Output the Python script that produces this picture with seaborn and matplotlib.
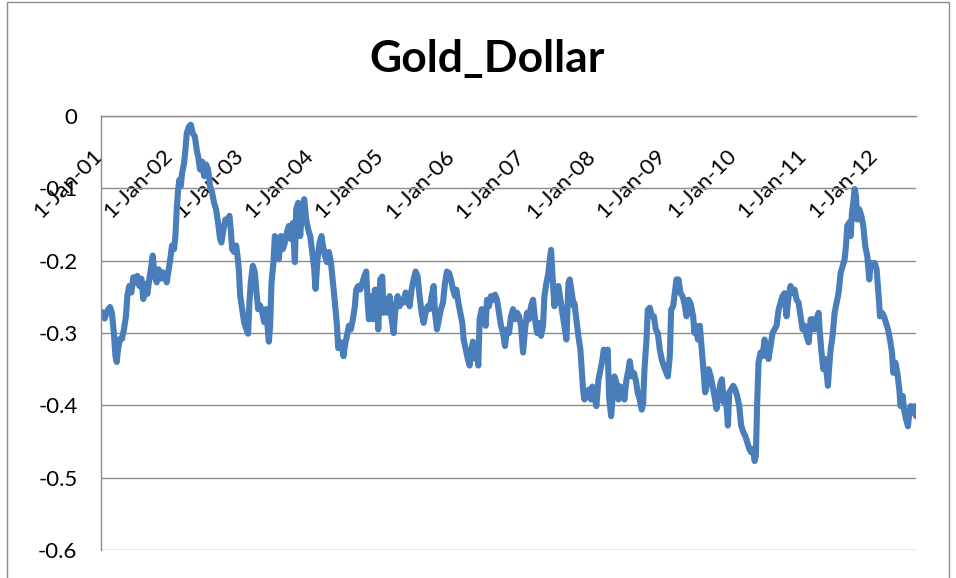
import matplotlib
matplotlib.use("Agg")
import matplotlib.pyplot as plt
import matplotlib.transforms as mtransforms
from matplotlib.patches import Rectangle
import seaborn as sns
import pandas as pd

# ---------------- data ----------------
chart_title = "Gold_Dollar"

dates = [
    2001.014, 2001.052, 2001.090, 2001.128, 2001.156, 2001.185, 2001.204, 2001.223, 2001.242, 2001.270,
    2001.298, 2001.327, 2001.355, 2001.374, 2001.402, 2001.431, 2001.459, 2001.488, 2001.516, 2001.545,
    2001.573, 2001.601, 2001.630, 2001.658, 2001.687, 2001.715, 2001.734, 2001.762, 2001.791, 2001.819,
    2001.848, 2001.876, 2001.904, 2001.933, 2001.961, 2001.990, 2002.008, 2002.037, 2002.056, 2002.075,
    2002.094, 2002.113, 2002.132, 2002.151, 2002.179, 2002.198, 2002.217, 2002.245, 2002.274, 2002.302,
    2002.331, 2002.359, 2002.378, 2002.406, 2002.435, 2002.463, 2002.491, 2002.520, 2002.548, 2002.577,
    2002.605, 2002.633, 2002.662, 2002.690,
    2002.709, 2002.738, 2002.766, 2002.794, 2002.823, 2002.842, 2002.861, 2002.889, 2002.918, 2002.937,
    2002.956, 2002.975, 2003.003, 2003.031, 2003.060, 2003.088, 2003.107, 2003.126, 2003.155, 2003.183,
    2003.211, 2003.230, 2003.259, 2003.287, 2003.316, 2003.344, 2003.363, 2003.382, 2003.401, 2003.420,
    2003.448, 2003.467, 2003.496, 2003.524, 2003.553, 2003.581, 2003.609, 2003.638, 2003.666, 2003.695,
    2003.723, 2003.751, 2003.770, 2003.799, 2003.827, 2003.855, 2003.884, 2003.912, 2003.941, 2003.969,
    2003.998, 2004.026, 2004.045, 2004.073, 2004.102, 2004.130, 2004.149, 2004.178, 2004.206, 2004.234,
    2004.263, 2004.291, 2004.319, 2004.348, 2004.367,
    2004.386, 2004.414, 2004.442, 2004.461, 2004.490, 2004.518, 2004.546, 2004.575, 2004.603, 2004.622,
    2004.651, 2004.679, 2004.708, 2004.736, 2004.764, 2004.783, 2004.802, 2004.821, 2004.840, 2004.859,
    2004.888, 2004.916, 2004.935, 2004.963, 2004.992, 2005.011, 2005.039, 2005.068, 2005.096, 2005.124,
    2005.153, 2005.181, 2005.210, 2005.238, 2005.266, 2005.295, 2005.323, 2005.352, 2005.380, 2005.408,
    2005.437, 2005.465, 2005.494, 2005.522, 2005.550, 2005.579, 2005.607, 2005.636, 2005.664, 2005.692,
    2005.721, 2005.740, 2005.768, 2005.797, 2005.825, 2005.854, 2005.882, 2005.910, 2005.939, 2005.967,
    2005.996, 2006.024,
    2006.043, 2006.071, 2006.099, 2006.128, 2006.147, 2006.175, 2006.204, 2006.232, 2006.251, 2006.279,
    2006.298, 2006.327, 2006.355, 2006.374, 2006.403, 2006.431, 2006.459, 2006.478, 2006.507, 2006.535,
    2006.564, 2006.592, 2006.620, 2006.649, 2006.677, 2006.706, 2006.734, 2006.762, 2006.791, 2006.819,
    2006.848, 2006.876, 2006.905, 2006.933, 2006.961, 2006.990, 2007.018, 2007.047, 2007.075, 2007.103,
    2007.132, 2007.160, 2007.189, 2007.217, 2007.245, 2007.274, 2007.293, 2007.321, 2007.350, 2007.369,
    2007.388, 2007.406, 2007.435, 2007.463, 2007.492, 2007.520, 2007.548, 2007.577, 2007.605, 2007.634,
    2007.653, 2007.681, 2007.710,
    2007.719, 2007.747, 2007.776, 2007.804, 2007.823, 2007.842, 2007.861, 2007.880, 2007.899, 2007.927,
    2007.955, 2007.974, 2008.003, 2008.031, 2008.060, 2008.088, 2008.116, 2008.135, 2008.164, 2008.192,
    2008.211, 2008.240, 2008.258, 2008.287, 2008.315, 2008.344, 2008.372, 2008.401, 2008.429, 2008.457,
    2008.486, 2008.505, 2008.533, 2008.562, 2008.590, 2008.618, 2008.647, 2008.675, 2008.694, 2008.713,
    2008.742, 2008.760, 2008.789, 2008.817, 2008.846, 2008.874, 2008.902, 2008.931, 2008.959, 2008.988,
    2009.016, 2009.045, 2009.073, 2009.092, 2009.120, 2009.149, 2009.168, 2009.196, 2009.225, 2009.253,
    2009.281, 2009.310, 2009.338, 2009.367,
    2009.404, 2009.423, 2009.442, 2009.471, 2009.499, 2009.527, 2009.546, 2009.575, 2009.603, 2009.622,
    2009.651, 2009.679, 2009.707, 2009.736, 2009.764, 2009.793, 2009.812, 2009.840, 2009.868, 2009.897,
    2009.916, 2009.944, 2009.973, 2010.001, 2010.029, 2010.058, 2010.086, 2010.115, 2010.143, 2010.171,
    2010.200, 2010.228, 2010.257, 2010.276, 2010.294, 2010.313, 2010.332, 2010.361, 2010.389, 2010.418,
    2010.446, 2010.474, 2010.503, 2010.531, 2010.560, 2010.588, 2010.616, 2010.645, 2010.673, 2010.702,
    2010.730, 2010.759, 2010.787, 2010.815, 2010.844, 2010.872, 2010.900, 2010.929, 2010.957, 2010.986,
    2011.014, 2011.043, 2011.071,
    2011.099, 2011.128, 2011.156, 2011.184, 2011.203, 2011.222, 2011.251, 2011.279, 2011.298, 2011.317,
    2011.336, 2011.355, 2011.383, 2011.412, 2011.440, 2011.469, 2011.497, 2011.525, 2011.554, 2011.573,
    2011.592, 2011.620, 2011.639, 2011.658, 2011.677, 2011.696, 2011.715, 2011.734, 2011.762, 2011.791,
    2011.819, 2011.847, 2011.876, 2011.904, 2011.923, 2011.952, 2011.980, 2012.008, 2012.037, 2012.056,
    2012.084, 2012.113, 2012.141, 2012.170, 2012.198, 2012.226, 2012.245, 2012.274, 2012.302, 2012.330,
    2012.349, 2012.378, 2012.397, 2012.425, 2012.453, 2012.472, 2012.491, 2012.520, 2012.548, 2012.567,
]

gold_dollar = [
    -0.271, -0.280, -0.269, -0.264, -0.273, -0.303, -0.331, -0.340, -0.322, -0.308,
    -0.308, -0.294, -0.276, -0.248, -0.235, -0.244, -0.223, -0.230, -0.221, -0.235,
    -0.225, -0.253, -0.232, -0.246, -0.225, -0.207, -0.193, -0.221, -0.230, -0.212,
    -0.225, -0.216, -0.221, -0.230, -0.212, -0.193, -0.179, -0.184, -0.166, -0.129,
    -0.102, -0.088, -0.097, -0.079, -0.065, -0.047, -0.024, -0.015, -0.012, -0.024,
    -0.028, -0.047, -0.056, -0.074, -0.063, -0.083, -0.067, -0.074, -0.097, -0.106,
    -0.120, -0.129, -0.148, -0.170,
    -0.175, -0.157, -0.143, -0.148, -0.138, -0.157, -0.184, -0.188, -0.179, -0.193,
    -0.212, -0.248, -0.267, -0.285, -0.294, -0.301, -0.257, -0.230, -0.207, -0.216,
    -0.248, -0.267, -0.262, -0.271, -0.285, -0.267, -0.289, -0.312, -0.289, -0.230,
    -0.202, -0.166, -0.175, -0.198, -0.166, -0.184, -0.175, -0.161, -0.152, -0.170,
    -0.148, -0.202, -0.129, -0.120, -0.166, -0.129, -0.115, -0.143, -0.157, -0.166,
    -0.188, -0.212, -0.239, -0.198, -0.175, -0.166, -0.179, -0.193, -0.202, -0.188,
    -0.202, -0.230, -0.257, -0.289, -0.321,
    -0.318, -0.313, -0.332, -0.318, -0.304, -0.290, -0.295, -0.281, -0.263, -0.240,
    -0.235, -0.240, -0.231, -0.222, -0.215, -0.254, -0.281, -0.263, -0.249, -0.281,
    -0.240, -0.258, -0.295, -0.226, -0.222, -0.272, -0.254, -0.272, -0.249, -0.281,
    -0.300, -0.263, -0.249, -0.263, -0.254, -0.258, -0.244, -0.249, -0.263, -0.240,
    -0.226, -0.215, -0.222, -0.249, -0.272, -0.286, -0.272, -0.263, -0.267, -0.249,
    -0.235, -0.272, -0.295, -0.281, -0.267, -0.258, -0.231, -0.215, -0.217, -0.226,
    -0.240, -0.249,
    -0.240, -0.258, -0.272, -0.286, -0.309, -0.322, -0.335, -0.345, -0.326, -0.312,
    -0.335, -0.322, -0.345, -0.281, -0.267, -0.272, -0.290, -0.254, -0.263, -0.249,
    -0.254, -0.247, -0.254, -0.272, -0.290, -0.300, -0.318, -0.295, -0.300, -0.277,
    -0.267, -0.281, -0.272, -0.277, -0.290, -0.327, -0.295, -0.272, -0.281, -0.263,
    -0.254, -0.281, -0.300, -0.286, -0.304, -0.290, -0.249, -0.231, -0.217, -0.199,
    -0.185, -0.217, -0.263, -0.240, -0.235, -0.254, -0.272, -0.290, -0.309, -0.231,
    -0.226, -0.244, -0.263,
    -0.259, -0.282, -0.305, -0.323, -0.351, -0.378, -0.392, -0.383, -0.388, -0.378,
    -0.392, -0.374, -0.388, -0.401, -0.365, -0.351, -0.337, -0.323, -0.328, -0.323,
    -0.388, -0.415, -0.392, -0.360, -0.369, -0.392, -0.374, -0.383, -0.392, -0.365,
    -0.351, -0.339, -0.360, -0.355, -0.365, -0.383, -0.392, -0.406, -0.397, -0.351,
    -0.309, -0.268, -0.265, -0.277, -0.277, -0.295, -0.300, -0.323, -0.337, -0.346,
    -0.353, -0.360, -0.332, -0.268, -0.263, -0.240, -0.226, -0.226, -0.245, -0.249,
    -0.259, -0.277, -0.254, -0.259,
    -0.277, -0.300, -0.290, -0.309, -0.290, -0.323, -0.346, -0.382, -0.369, -0.350,
    -0.359, -0.373, -0.387, -0.405, -0.387, -0.369, -0.364, -0.396, -0.387, -0.428,
    -0.382, -0.378, -0.373, -0.378, -0.387, -0.401, -0.428, -0.437, -0.442, -0.451,
    -0.460, -0.465, -0.460, -0.477, -0.470, -0.396, -0.341, -0.327, -0.332, -0.309,
    -0.323, -0.336, -0.318, -0.300, -0.295, -0.290, -0.268, -0.258, -0.249, -0.245,
    -0.277, -0.249, -0.235, -0.245, -0.240, -0.254, -0.258, -0.277, -0.295, -0.290,
    -0.304, -0.313, -0.281,
    -0.281, -0.295, -0.281, -0.272, -0.300, -0.323, -0.350, -0.336, -0.355, -0.373,
    -0.346, -0.323, -0.304, -0.272, -0.258, -0.244, -0.217, -0.208, -0.198, -0.180,
    -0.152, -0.147, -0.166, -0.134, -0.120, -0.101, -0.111, -0.143, -0.129, -0.138,
    -0.152, -0.180, -0.194, -0.226, -0.203, -0.207, -0.203, -0.212, -0.249, -0.277,
    -0.272, -0.277, -0.286, -0.295, -0.309, -0.327, -0.355, -0.341, -0.355, -0.378,
    -0.401, -0.387, -0.406, -0.419, -0.429, -0.410, -0.401, -0.410, -0.401, -0.415,
]

year_ticks = [2001, 2002, 2003, 2004, 2005, 2006, 2007, 2008, 2009, 2010, 2011, 2012]
year_labels = ["1-Jan-01", "1-Jan-02", "1-Jan-03", "1-Jan-04", "1-Jan-05", "1-Jan-06",
               "1-Jan-07", "1-Jan-08", "1-Jan-09", "1-Jan-10", "1-Jan-11", "1-Jan-12"]
y_ticks = [0, -0.1, -0.2, -0.3, -0.4, -0.5, -0.6]
y_labels = ["0", "-0.1", "-0.2", "-0.3", "-0.4", "-0.5", "-0.6"]

assert len(dates) == len(gold_dollar)

# ---------------- styling ----------------
sns.set_style("white")
plt.rcParams["font.family"] = ["Lato", "DejaVu Sans"]

LINE = "#4A7EBB"
GRID = "#8C8C8C"

fig = plt.figure(figsize=(9.56, 5.78), dpi=100)
ax = fig.add_axes([101 / 956, 1 - 550 / 578, (916 - 101) / 956, (550 - 116) / 578])

df = pd.DataFrame({"date": dates, "value": gold_dollar})
sns.lineplot(data=df, x="date", y="value", ax=ax, color=LINE, linewidth=4.4,
             estimator=None, solid_joinstyle="round", solid_capstyle="round")

ax.set_xlim(2001.0, dates[-1])
ax.set_ylim(-0.6, 0)
ax.set_xlabel("")
ax.set_ylabel("")

for s in ["top", "right"]:
    ax.spines[s].set_visible(False)
ax.spines["bottom"].set_position(("data", 0))
ax.spines["bottom"].set_color(GRID)
ax.spines["left"].set_color(GRID)
ax.spines["bottom"].set_linewidth(1.0)
ax.spines["left"].set_linewidth(1.0)

ax.grid(axis="y", color=GRID, linewidth=1.0)
ax.grid(axis="x", visible=False)
ax.set_axisbelow(True)

ax.set_yticks(y_ticks)
ax.set_yticklabels(y_labels)
ax.set_xticks(year_ticks)
ax.set_xticklabels(year_labels)

ax.tick_params(axis="x", direction="out", length=6.5, width=1, color=GRID,
               pad=15, labelsize=16, labelcolor="black")
ax.tick_params(axis="y", direction="out", length=5, width=1, color=GRID,
               pad=12, labelsize=16, labelcolor="black")

shift = mtransforms.ScaledTranslation(0.05, 0, fig.dpi_scale_trans)
for lbl in ax.get_xticklabels():
    lbl.set_rotation(45)
    lbl.set_horizontalalignment("right")
    lbl.set_verticalalignment("top")
    lbl.set_transform(lbl.get_transform() + shift)

fig.text(487 / 956, 1 - 72 / 578, chart_title, ha="center", va="baseline",
         fontsize=32, fontweight="bold", color="black")

fig.patches.append(Rectangle((6.5 / 956, -0.02), (949 - 6.5) / 956, 1.02 + (1 - 1.5 / 578) - 1,
                             transform=fig.transFigure, fill=False,
                             edgecolor=GRID, linewidth=1.0))

fig.savefig("out.png", dpi=100)
